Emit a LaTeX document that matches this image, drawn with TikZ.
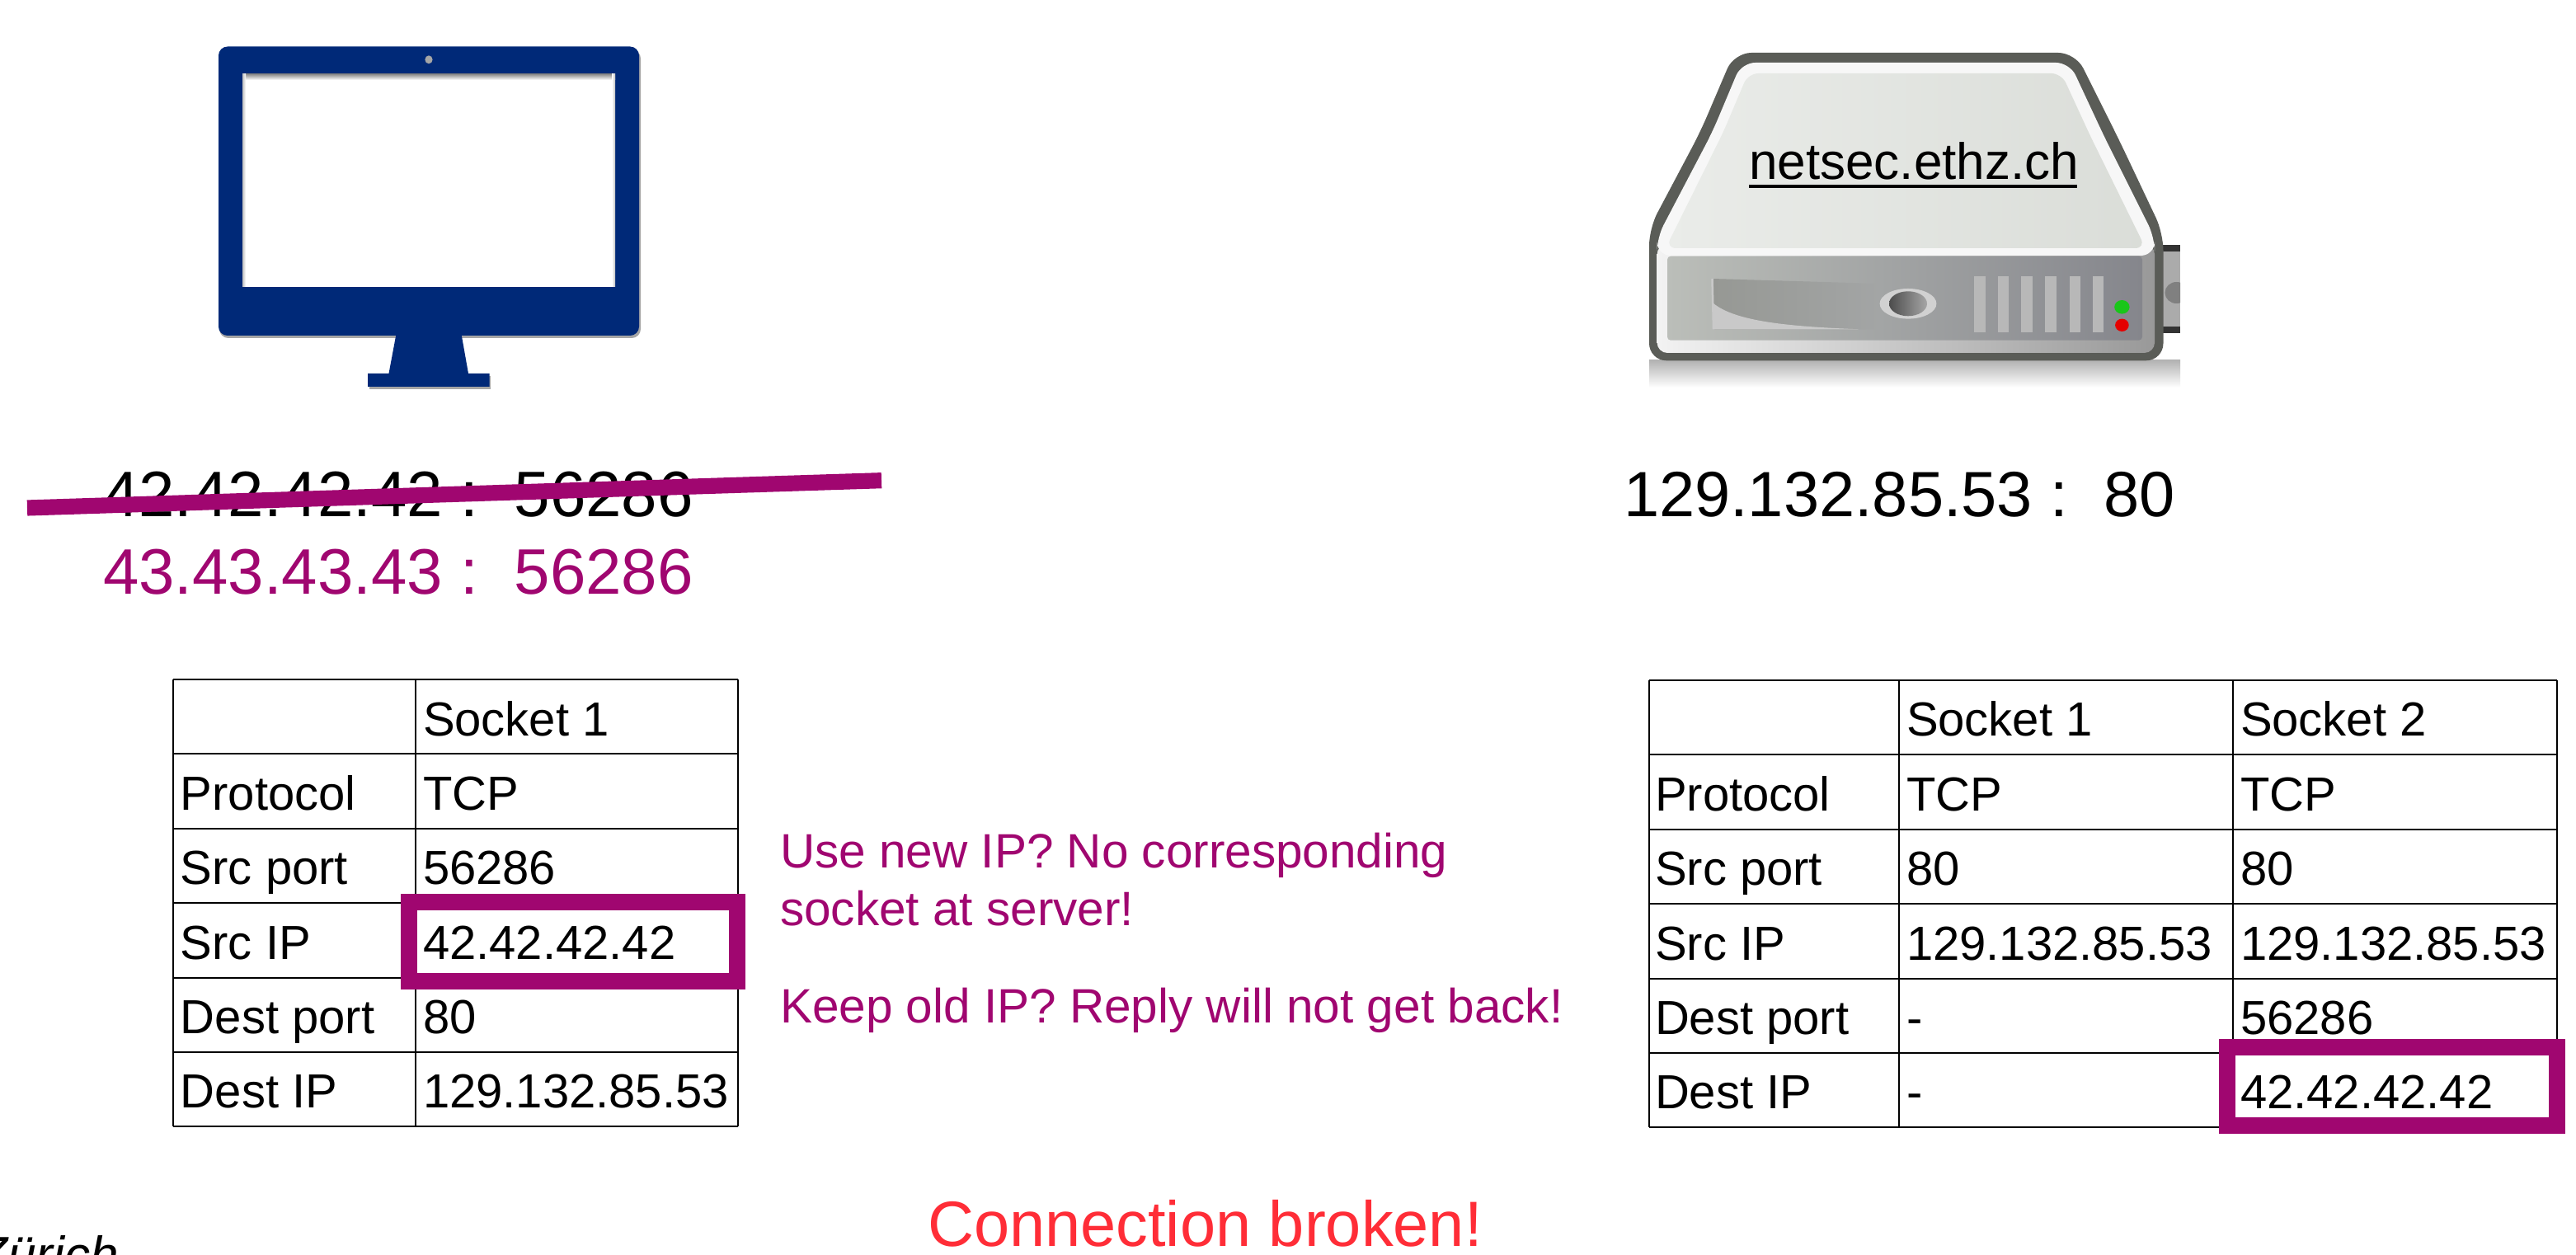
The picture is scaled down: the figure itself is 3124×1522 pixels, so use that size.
\documentclass[tikz,border=0pt]{standalone}
\usepackage{fontspec}
\setmainfont{Liberation Sans}[Kerning=Off]
\definecolor{navyblue}{RGB}{0,41,120}
\definecolor{ethpurple}{RGB}{160,6,112}
\definecolor{alertred}{RGB}{255,45,55}
\definecolor{srvedge}{RGB}{90,92,87}
\tikzset{
  every picture/.style={line width=0.48pt},
  grid line/.style={black,line width=0.48pt},
  hilite/.style={draw=ethpurple,line width=4.8pt},
  cell/.style={anchor=base west,inner sep=0pt,font=\fontsize{13.92}{16}\selectfont},
  addr/.style={anchor=base west,inner sep=0pt,font=\fontsize{18.62}{22}\selectfont},
  cliaddr/.style={addr,font=\fontsize{18.72}{22}\selectfont},
  note/.style={cell,font=\fontsize{14.04}{16}\selectfont,text=ethpurple}
}

\begin{document}
\begin{tikzpicture}[x=0.24pt,y=0.24pt,yscale=-1,xscale=1]
\useasboundingbox (0,0) rectangle (3124,1522);
\clip (0,0) rectangle (3124,1522);

%Shape: Monitor shadow
\fill [black,opacity=0.35,rounded corners=2.6pt] (266,60) rectangle (777,410);
\fill [black,opacity=0.35] (448,456) rectangle (595,472);
%Shape: Monitor body
\fill [navyblue,rounded corners=2.6pt] (265,56.5) rectangle (775,407);
\fill [navyblue] (480.5,405) -- (559.5,405) -- (568,453) -- (593.5,453) -- (593.5,469) -- (446,469) -- (446,453) -- (471.5,453) -- cycle;
%Shape: Monitor screen
\fill [white] (294,90) rectangle (746,348);
\shade [top color=black!45,bottom color=white] (294,90) rectangle (746,97);
\shade [left color=black!25,right color=white] (294,90) rectangle (298,348);
\shade [left color=white,right color=black!25] (742,90) rectangle (746,348);
%Shape: Camera
\fill [black!35] (520,72.3) ellipse (4.6 and 5);

%Shape: Server shadow
\shade [top color=black!30,bottom color=white] (2000,437) rectangle (2644,470);
%Shape: Server connector
\fill [black!33] (2623,297) rectangle (2644,404);
\fill [black!80] (2623,297) rectangle (2644,305);
\fill [black!80] (2623,396) rectangle (2644,404);
\begin{scope}
\clip (2623,297) rectangle (2644,404);
\fill [black!50] (2639.5,355) ellipse (14 and 13);
\end{scope}
%Shape: Server case
\fill [srvedge,rounded corners=5pt] (2000,277) -- (2000,437.3) -- (2623.5,437.3) -- (2623.5,283) -- (2570,170) -- (2517,64) -- (2103,64) -- (2062,160) -- cycle;
%Shape: Server front
\shade [left color=black!5,right color=black!40,rounded corners=3pt] (2009.6,296) rectangle (2613,428);
\shade [left color={rgb,255:red,187;green,190;blue,185},right color={rgb,255:red,133;green,134;blue,140},rounded corners=1pt] (2022,310.7) rectangle (2598,412.7);
%Shape: Server top
\fill [black!3,rounded corners=4pt] (2009.6,310) -- (2009.6,288) -- (2076.7,160) -- (2112,76) -- (2510,76) -- (2552,166) -- (2613,288) -- (2613,310) -- cycle;
\shade [left color={rgb,255:red,234;green,236;blue,233},right color={rgb,255:red,218;green,221;blue,216},rounded corners=3pt] (2020,301) -- (2090,160) -- (2120,89) -- (2500,89) -- (2535,165) -- (2602,301) -- cycle;
%Shape: Server slot
\shade [left color={rgb,255:red,150;green,152;blue,148},right color={rgb,255:red,163;green,165;blue,165}] (2076,338) -- (2280,344) -- (2280,399.3) -- (2078,399.3) -- cycle;
\fill [black!21] (2078,399.3) -- (2078,368) .. controls (2105,390) and (2170,396) .. (2254,399.3) -- cycle;
\draw [black!21,line width=0.6pt] (2076.5,338) -- (2078,399.3);
%Shape: Server button
\fill [black!18] (2314,368.3) ellipse (34.4 and 18.3);
\shade [left color=black!70,right color=black!35] (2314,368.3) ellipse (23 and 15);
%Shape: Server vents
\foreach \ventx in {2394.3,2422.8,2451.3,2480.2,2509.6,2537.6}
  \fill [black!28] (\ventx,335) rectangle ++(13.3,68.3);
%Shape: Server lights
\fill [green!75!black!90] (2573.4,372.3) ellipse (9.2 and 8.3);
\fill [red!90!black] (2573.4,394.3) ellipse (8.3 and 7.7);
\node [anchor=base west,inner sep=0pt,font=\fontsize{14.9}{18}\selectfont] (srvlabel) at (2120,218) {netsec.ethz.ch};
\draw [line width=0.96pt] (srvlabel.base west) ++(1,8) -- ++(398,0);

%Addresses
\node [cliaddr] (oldaddr) at (124,626.7) {42.42.42.42 :\ \ 56286};
\coordinate (strikestart) at (33,616);
\coordinate (strikeend) at (1069,582.7);
\draw [ethpurple,line width=4.6pt] (strikestart) -- (strikeend);
\node [cliaddr,text=ethpurple] (newaddr) at (124,721) {43.43.43.43 :\ \ 56286};
\node [addr] (srvaddr) at (1968,626.7) {129.132.85.53 :\ \ 80};

%Client table
\foreach \liney in {824,914.4,1004.8,1095.2,1185.6,1276,1366.4}
  \draw [grid line] (210,\liney) -- (895,\liney);
\foreach \linex in {210,504,895}
  \draw [grid line] (\linex,824) -- (\linex,1366.4);
\node [cell] (clhead) at (512,893) {Socket 1};
\foreach \i/\basey/\field/\val in {1/982.4/Protocol/TCP,2/1072.8/Src port/56286,3/1163.2/Src IP/42.42.42.42,4/1253.6/Dest port/80,5/1344/Dest IP/129.132.85.53}{
  \node [cell] (clf\i) at (218,\basey) {\field};
  \node [cell] (clv\i) at (512,\basey) {\val};
}
\draw [hilite] (496,1094.5) rectangle (894,1190);

%Server table
\foreach \liney in {825,915.4,1005.8,1096.2,1186.6,1277,1367.4}
  \draw [grid line] (2000,\liney) -- (3100.7,\liney);
\foreach \linex in {2000,2302.5,2707.5,3100.7}
  \draw [grid line] (\linex,825) -- (\linex,1367.4);
\node [cell] (svhead1) at (2311,893) {Socket 1};
\node [cell] (svhead2) at (2716,893) {Socket 2};
\foreach \i/\basey/\field/\vala/\valb in {1/983.4/Protocol/TCP/TCP,2/1073.8/Src port/80/80,3/1164.2/Src IP/129.132.85.53/129.132.85.53,4/1254.6/Dest port/-/56286,5/1345/Dest IP/-/42.42.42.42}{
  \node [cell] (svf\i) at (2006,\basey) {\field};
  \node [cell] (sva\i) at (2311,\basey) {\vala};
  \node [cell] (svb\i) at (2716,\basey) {\valb};
}
\draw [hilite] (2701,1270.5) rectangle (3100.5,1365.5);

%Remarks
\node [note] (newip1) at (945,1053) {Use new IP? No corresponding};
\node [note] (newip2) at (945,1123) {socket at server!};
\node [note] (oldip) at (945,1241) {Keep old IP? Reply will not get back!};
\node [addr,text=alertred] (broken) at (1124,1511.7) {Connection broken!};
\node [anchor=base east,inner sep=0pt,font=\fontsize{14.9}{18}\selectfont\itshape] (footer) at (145,1544) {Zürich};

\end{tikzpicture}
\end{document}
